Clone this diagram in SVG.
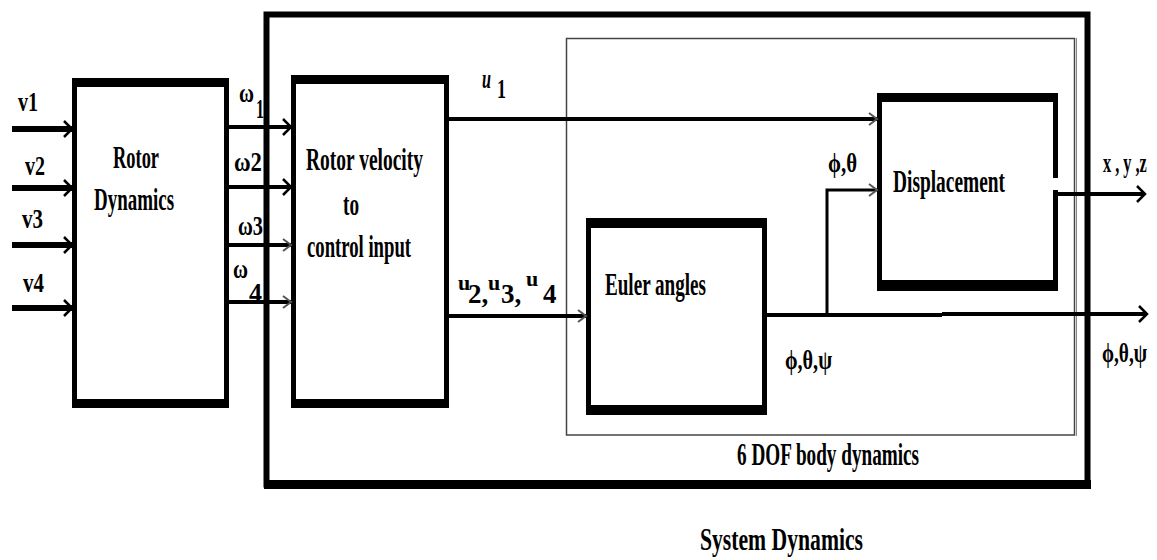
<svg xmlns="http://www.w3.org/2000/svg" width="1157" height="560" viewBox="0 0 1157 560">
<style>
text{font-family:"Liberation Serif","Times New Roman",serif;font-weight:bold;fill:#000}
.t{font-size:32px}
.s{font-size:27px}
.box{fill:#fff;stroke:#000}
.bar{fill:#000}
.ln{stroke:#000;fill:none}
</style>
<defs>
<marker id="chev" markerUnits="userSpaceOnUse" markerWidth="12" markerHeight="18" refX="9" refY="9" orient="auto">
<path d="M1,1 L9,9 L1,17" fill="none" stroke="#000" stroke-width="2.5"/>
</marker>
<marker id="chevg" markerUnits="userSpaceOnUse" markerWidth="12" markerHeight="14" refX="9" refY="7" orient="auto">
<path d="M1,1 L9,7 L1,13" fill="none" stroke="#555" stroke-width="2"/>
</marker>
</defs>
<rect width="1157" height="560" fill="#fff"/>

<g id="system-dynamics">
<rect x="266.5" y="14.5" width="821" height="470" fill="none" stroke="#000" stroke-width="6"/>
<rect class="bar" x="264" y="480" width="827" height="9"/>
<text class="t" font-size="34" x="700" y="550" textLength="163" lengthAdjust="spacingAndGlyphs">System Dynamics</text>
</g>

<g id="dof-body-dynamics">
<rect x="566.5" y="38.5" width="508" height="396.5" fill="none" stroke="#444" stroke-width="1.5"/>
<line x1="1076.5" y1="38" x2="1076.5" y2="436" stroke="#888" stroke-width="1"/>
<text class="t" font-size="31" x="737" y="465" textLength="182" lengthAdjust="spacingAndGlyphs">6 DOF body dynamics</text>
</g>

<g id="rotor-dynamics">
<rect class="box" x="74.5" y="82" width="152" height="322" stroke-width="5"/>
<rect class="bar" x="72" y="78" width="157" height="9"/>
<rect class="bar" x="72" y="399" width="157" height="9"/>
<text class="t" font-size="33" x="113" y="168" textLength="46" lengthAdjust="spacingAndGlyphs">Rotor</text>
<text class="t" font-size="33" x="94" y="210" textLength="80" lengthAdjust="spacingAndGlyphs">Dynamics</text>
</g>

<g id="rotor-velocity">
<rect class="box" x="293.5" y="79" width="153" height="325" stroke-width="5"/>
<rect class="bar" x="291" y="75" width="158" height="9"/>
<rect class="bar" x="291" y="399" width="158" height="9"/>
<text class="t" font-size="31" x="306" y="170" textLength="117" lengthAdjust="spacingAndGlyphs">Rotor velocity</text>
<text class="t" font-size="31" x="343" y="215" textLength="16" lengthAdjust="spacingAndGlyphs">to</text>
<text class="t" font-size="31" x="307" y="257" textLength="104" lengthAdjust="spacingAndGlyphs">control input</text>
</g>

<g id="euler-angles">
<rect class="box" x="588.5" y="221" width="176" height="191" stroke-width="5"/>
<rect class="bar" x="586" y="218" width="181" height="10"/>
<rect class="bar" x="586" y="405" width="181" height="10"/>
<text class="t" font-size="34" x="605" y="295" textLength="101" lengthAdjust="spacingAndGlyphs">Euler angles</text>
</g>

<g id="displacement">
<rect x="878" y="93" width="180" height="198" fill="#fff"/>
<path d="M879.5,93 V291 M878,96 H1058 M1055.5,93 V178 M1055.5,190 V291" stroke="#000" stroke-width="5" fill="none"/>
<rect class="bar" x="877" y="93" width="181" height="9"/>
<rect class="bar" x="877" y="280" width="181" height="11"/>
<text class="t" font-size="34" x="893" y="192" textLength="112" lengthAdjust="spacingAndGlyphs">Displacement</text>
</g>

<g id="connectors">
<line class="ln" x1="12" y1="129" x2="72" y2="129" stroke-width="6" marker-end="url(#chev)"/>
<line class="ln" x1="12" y1="188" x2="72" y2="188" stroke-width="6" marker-end="url(#chev)"/>
<line class="ln" x1="12" y1="245" x2="72" y2="245" stroke-width="6" marker-end="url(#chev)"/>
<line class="ln" x1="12" y1="308" x2="72" y2="308" stroke-width="6" marker-end="url(#chev)"/>
<line class="ln" x1="229" y1="127" x2="291" y2="127" stroke-width="4" marker-end="url(#chev)"/>
<line class="ln" x1="229" y1="187" x2="291" y2="187" stroke-width="4" marker-end="url(#chev)"/>
<line class="ln" x1="229" y1="245" x2="291" y2="245" stroke-width="4" marker-end="url(#chevg)"/>
<line class="ln" x1="229" y1="302" x2="291" y2="302" stroke-width="4" marker-end="url(#chevg)"/>
<line class="ln" x1="449" y1="119" x2="877" y2="119" stroke-width="4" marker-end="url(#chevg)"/>
<line class="ln" x1="449" y1="316" x2="586" y2="316" stroke-width="4" marker-end="url(#chevg)"/>
<line class="ln" x1="767" y1="315" x2="942" y2="315" stroke-width="4"/>
<line class="ln" x1="942" y1="314" x2="1147" y2="314" stroke-width="4" marker-end="url(#chev)"/>
<path class="ln" d="M827,315 V190 H877" stroke-width="3" marker-end="url(#chevg)"/>
<line class="ln" x1="1058" y1="194" x2="1145" y2="194" stroke-width="4" marker-end="url(#chev)"/>
</g>

<g id="labels">
<text class="s" x="18" y="111" textLength="20" lengthAdjust="spacingAndGlyphs">v1</text>
<text class="s" x="25" y="175" textLength="20" lengthAdjust="spacingAndGlyphs">v2</text>
<text class="s" x="22" y="228" textLength="21" lengthAdjust="spacingAndGlyphs">v3</text>
<text class="s" x="23" y="292" textLength="21" lengthAdjust="spacingAndGlyphs">v4</text>
<text class="s" x="239" y="102" textLength="15" lengthAdjust="spacingAndGlyphs">ω</text>
<text class="s" x="256" y="118" textLength="8" lengthAdjust="spacingAndGlyphs">1</text>
<text class="s" x="234" y="171" textLength="28" lengthAdjust="spacingAndGlyphs">ω2</text>
<text class="s" x="238" y="235" textLength="25" lengthAdjust="spacingAndGlyphs">ω3</text>
<text class="s" x="233" y="278" textLength="15" lengthAdjust="spacingAndGlyphs">ω</text>
<text class="s" x="249" y="302" textLength="13" lengthAdjust="spacingAndGlyphs">4</text>
<text class="s" x="482" y="88" font-style="italic" textLength="9" lengthAdjust="spacingAndGlyphs">u</text>
<text class="s" x="497" y="98" textLength="9" lengthAdjust="spacingAndGlyphs">1</text>
<text class="s"><tspan x="458" y="290" font-size="22">u</tspan><tspan x="468" y="303">2,</tspan><tspan x="488" y="290" font-size="22">u</tspan><tspan x="501" y="303">3,</tspan><tspan x="526" y="286" font-size="22">u</tspan><tspan x="543" y="303">4</tspan></text>
<text class="s" x="828" y="172" textLength="29" lengthAdjust="spacingAndGlyphs">ϕ,θ</text>
<text class="s" x="785" y="369" textLength="47" lengthAdjust="spacingAndGlyphs">ϕ,θ,ψ</text>
<text class="s" transform="translate(1102,362) scale(0.72,1)" x="0" y="0" textLength="62.5" lengthAdjust="spacingAndGlyphs">ϕ,θ,ψ</text>
<text class="s" transform="translate(1103,172) scale(0.6,1)" x="0" y="0" textLength="73" lengthAdjust="spacingAndGlyphs">x , y ,z</text>
</g>
</svg>
